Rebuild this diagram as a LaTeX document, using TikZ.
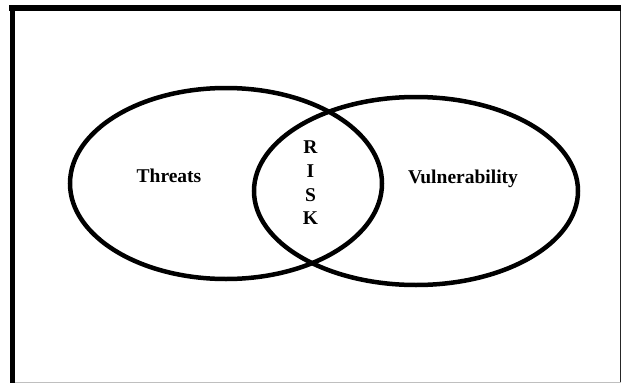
\documentclass[tikz,border=0pt]{standalone}
\usepackage{fontspec}
\setmainfont{Liberation Serif}
\begin{document}
\begin{tikzpicture}[x=1pt,y=-1pt,
  ring/.style={draw=black,line width=4.5pt},
  lbl/.style={font=\fontsize{19.5}{24}\selectfont\bfseries,inner sep=0pt,anchor=base}]
\useasboundingbox (0,0) rectangle (622,383);
\fill[white] (0,0) rectangle (622,383);
% frame
\draw[black!85,line width=1pt] (12,8) -- (620.5,8) -- (620.5,382.5);
\draw[black!25,line width=1pt] (12,382.5) -- (620.5,382.5);
\draw[black,line width=6pt] (9,8) -- (620.5,8);
\draw[black,line width=5.5pt] (12.25,5) -- (12.25,383);
% ellipses
\draw[ring] (226,183.5) ellipse [x radius=156, y radius=95.5];
\draw[ring] (416,191) ellipse [x radius=162, y radius=94];
% labels
\node[lbl] (threats) at (169,182) {Threats};
\node[lbl] (vuln) at (463,183) {Vulnerability};
\node[lbl] (r) at (310.5,153) {R};
\node[lbl] (i) at (310.5,177) {I};
\node[lbl] (s) at (310.5,201.5) {S};
\node[lbl] (k) at (310.5,224.5) {K};
\end{tikzpicture}
\end{document}
